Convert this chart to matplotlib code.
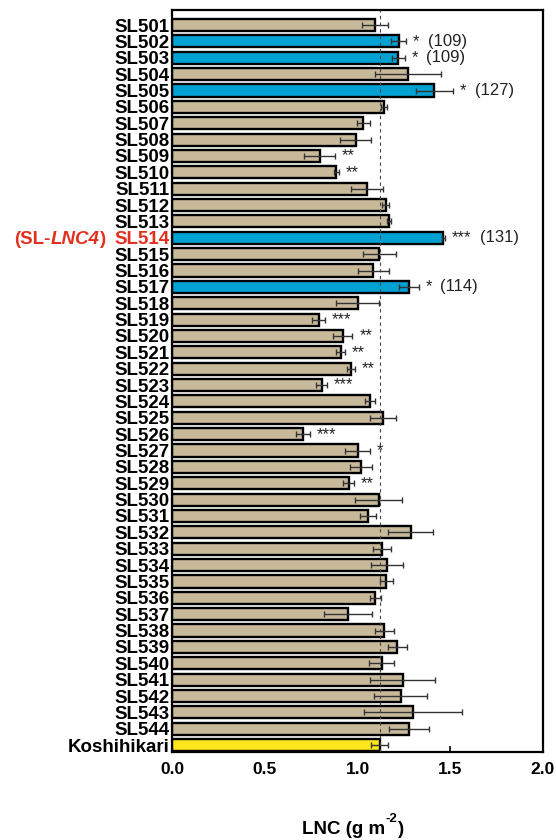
import matplotlib
matplotlib.use("Agg")
import matplotlib.pyplot as plt
import numpy as np

plt.rcParams['font.family'] = ['Liberation Sans', 'DejaVu Sans']

lines = ["SL501", "SL502", "SL503", "SL504", "SL505", "SL506", "SL507", "SL508", "SL509", "SL510",
         "SL511", "SL512", "SL513", "SL514", "SL515", "SL516", "SL517", "SL518", "SL519", "SL520",
         "SL521", "SL522", "SL523", "SL524", "SL525", "SL526", "SL527", "SL528", "SL529", "SL530",
         "SL531", "SL532", "SL533", "SL534", "SL535", "SL536", "SL537", "SL538", "SL539", "SL540",
         "SL541", "SL542", "SL543", "SL544", "Koshihikari"]
lnc = [1.095, 1.223, 1.219, 1.270, 1.415, 1.143, 1.032, 0.990, 0.796, 0.886,
       1.051, 1.152, 1.171, 1.463, 1.118, 1.086, 1.276, 1.000, 0.790, 0.920,
       0.909, 0.966, 0.806, 1.067, 1.137, 0.705, 1.000, 1.019, 0.952, 1.114,
       1.057, 1.286, 1.130, 1.160, 1.156, 1.095, 0.949, 1.145, 1.215, 1.130,
       1.244, 1.232, 1.300, 1.278, 1.120]
err = [0.072, 0.040, 0.035, 0.178, 0.100, 0.016, 0.037, 0.084, 0.084, 0.014,
       0.086, 0.020, 0.010, 0.010, 0.087, 0.086, 0.053, 0.114, 0.034, 0.052,
       0.024, 0.021, 0.029, 0.029, 0.069, 0.038, 0.067, 0.061, 0.030, 0.127,
       0.044, 0.119, 0.049, 0.085, 0.034, 0.029, 0.127, 0.051, 0.053, 0.066,
       0.175, 0.141, 0.264, 0.107, 0.045]
signif = {"SL502": "*", "SL503": "*", "SL505": "*", "SL509": "**", "SL510": "**",
          "SL514": "***", "SL517": "*", "SL519": "***", "SL520": "**", "SL521": "**",
          "SL522": "**", "SL523": "***", "SL526": "***", "SL527": "*", "SL529": "**"}
percent = {"SL502": "(109)", "SL503": "(109)", "SL505": "(127)", "SL514": "(131)", "SL517": "(114)"}
control_value = 1.12
xticks = [0.0, 0.5, 1.0, 1.5, 2.0]

tan = "#C9B99B"
blue = "#00A2D3"
yellow = "#FFE51C"
red = "#E2301F"

colors = []
for name in lines:
    if name == "Koshihikari":
        colors.append(yellow)
    elif name in percent:
        colors.append(blue)
    else:
        colors.append(tan)

fig = plt.figure(figsize=(5.56, 8.40), dpi=100)
ax = fig.add_axes([0.3094, 0.1048, 0.6672, 0.8833])

y = np.arange(len(lines))
ax.barh(y, lnc, height=0.74, color=colors, edgecolor="black", linewidth=1.7, zorder=2)
ax.errorbar(lnc, y, xerr=err, fmt="none", ecolor="#333333", elinewidth=1.0,
            capsize=2.5, capthick=1.0, zorder=3)
ax.axvline(control_value, color="#444444", linestyle=(0, (3, 3)), linewidth=0.8, zorder=4)

for i, name in enumerate(lines):
    if name in signif:
        xe = lnc[i] + err[i]
        st = ax.annotate(signif[name], xy=(xe, i), xytext=(5, 0), textcoords="offset points",
                         ha="left", va="center", fontsize=12, color="#222222")
        if name in percent:
            ax.annotate(percent[name], xy=(1, 0), xycoords=st, xytext=(6, 0),
                        textcoords="offset points", ha="left", va="bottom",
                        fontsize=12, color="#222222")

ax.set_xlim(0, 2.0)
ax.set_ylim(len(lines) - 1 + 0.42, -0.92)
ax.set_yticks(y)
ax.set_yticklabels(lines, fontsize=13.5, fontweight="bold")
ax.set_xticks(xticks)
ax.set_xticklabels([f"{v:.1f}" for v in xticks], fontsize=12.5, fontweight="bold")
ax.tick_params(axis="y", length=0, pad=2)
ax.tick_params(axis="x", direction="in", length=4, width=1.2, pad=7)
for s in ax.spines.values():
    s.set_linewidth(1.6)

# x-axis label "LNC (g m-2)" with hyphen superscript
xl1 = fig.text(302 / 556, 6 / 840, "LNC (g m", ha="left", va="baseline",
               fontsize=13.5, fontweight="bold")
xl2 = ax.annotate("-2", xy=(1, 0), xycoords=xl1, xytext=(0.5, 9), textcoords="offset points",
                  ha="left", va="bottom", fontsize=9.5, fontweight="bold",
                  annotation_clip=False)
xl3 = ax.annotate(")", xy=(1, 0), xycoords=xl2, xytext=(0.5, -9), textcoords="offset points",
                  ha="left", va="bottom", fontsize=13.5, fontweight="bold",
                  annotation_clip=False)

# Highlight SL514 label
idx = lines.index("SL514")
tl = ax.get_yticklabels()[idx]
tl.set_color(red)
p3 = ax.annotate(")", xy=(0, 0), xycoords=tl, xytext=(-6, 0), textcoords="offset points",
                 ha="right", va="bottom", fontsize=13.5, fontweight="bold", color=red)
p2 = ax.annotate("LNC4", xy=(0, 0), xycoords=p3, xytext=(0, 0), textcoords="offset points",
                 ha="right", va="bottom", fontsize=13.5, fontweight="bold", fontstyle="italic", color=red)
p1 = ax.annotate("(SL-", xy=(0, 0), xycoords=p2, xytext=(-0.5, 0), textcoords="offset points",
                 ha="right", va="bottom", fontsize=13.5, fontweight="bold", color=red)

fig.savefig("out.png", dpi=100)
